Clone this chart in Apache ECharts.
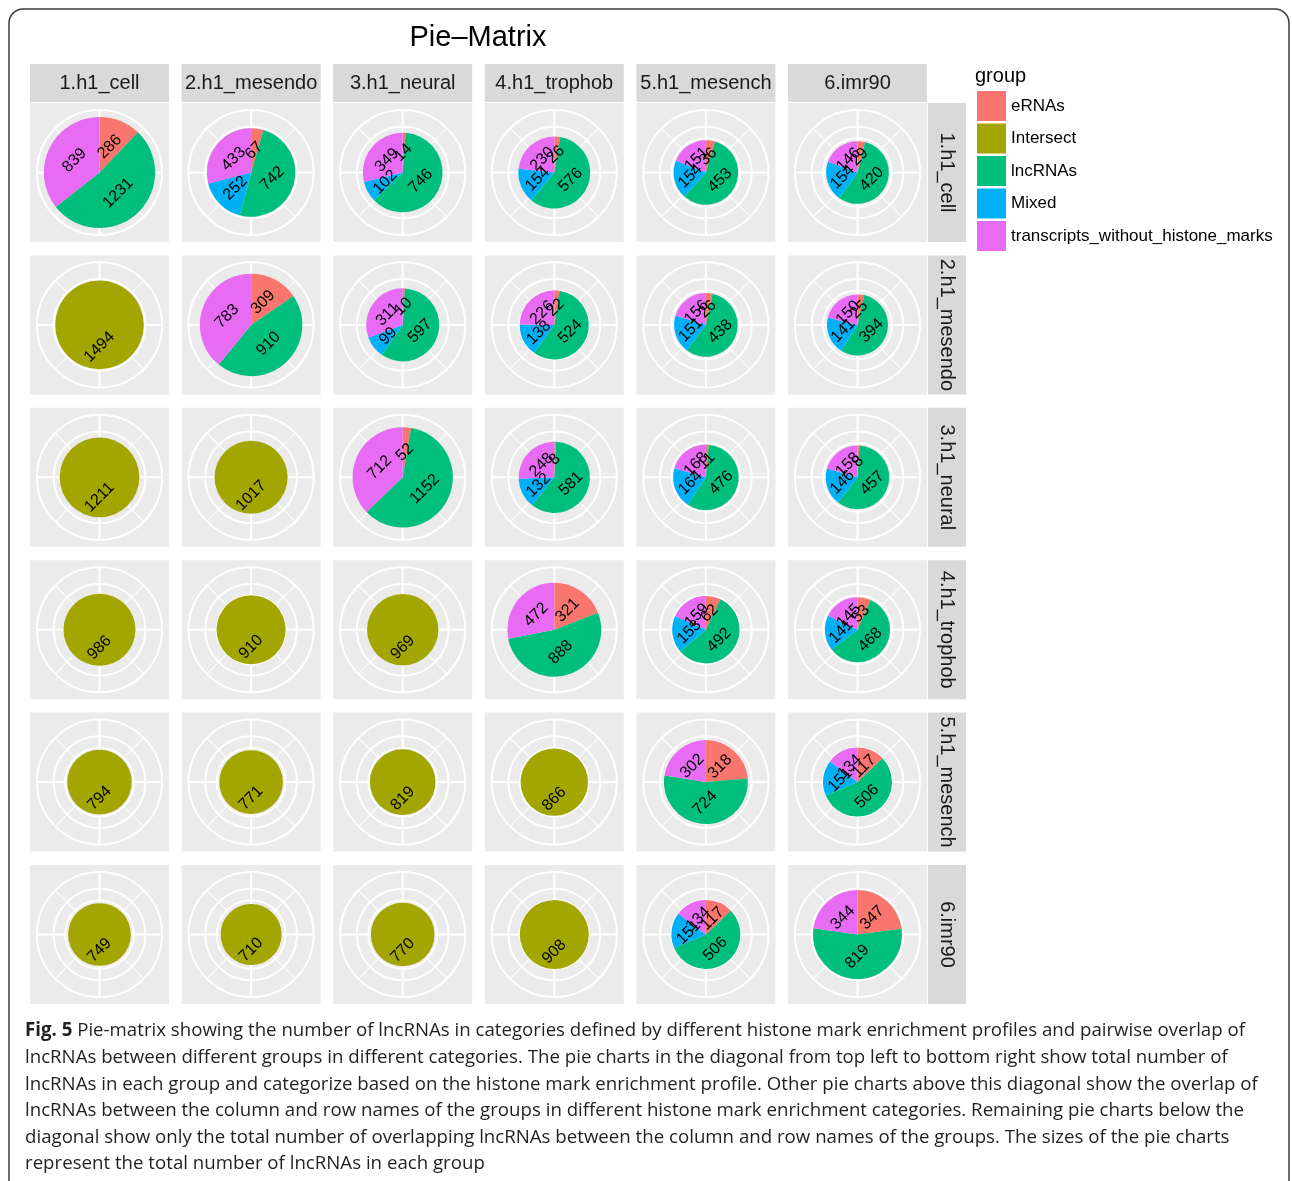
<!DOCTYPE html>
<html>
<head>
<meta charset="utf-8">
<title>Pie–Matrix</title>
<script src="https://cdn.jsdelivr.net/npm/echarts@6/dist/echarts.min.js"></script>
<style>
  html, body { margin: 0; padding: 0; background: #ffffff; }
  #chart { width: 1292px; height: 1181px; }
</style>
</head>
<body>
<div id="chart"></div>
<script>
// ---- data -------------------------------------------------------------
const samples = ['1.h1_cell', '2.h1_mesendo', '3.h1_neural', '4.h1_trophob', '5.h1_mesench', '6.imr90'];
const groups = ['eRNAs', 'Intersect', 'lncRNAs', 'Mixed', 'transcripts_without_histone_marks'];

// Counts per category; rows = row facet, columns = column facet (null = not present)
const eRNAs = [
  [286, 67, 14, 26, 36, 29],
  [null, 309, 10, 22, 26, 25],
  [null, null, 52, 8, 11, 8],
  [null, null, null, 321, 62, 53],
  [null, null, null, null, 318, 117],
  [null, null, null, null, 117, 347]
];
const intersect = [
  [null, null, null, null, null, null],
  [1494, null, null, null, null, null],
  [1211, 1017, null, null, null, null],
  [986, 910, 969, null, null, null],
  [794, 771, 819, 866, null, null],
  [749, 710, 770, 908, null, null]
];
const lncRNAs = [
  [1231, 742, 746, 576, 453, 420],
  [null, 910, 597, 524, 438, 394],
  [null, null, 1152, 581, 476, 457],
  [null, null, null, 888, 492, 468],
  [null, null, null, null, 724, 506],
  [null, null, null, null, 506, 819]
];
const mixed = [
  [null, 252, 102, 154, 154, 154],
  [null, null, 99, 138, 151, 141],
  [null, null, null, 132, 164, 146],
  [null, null, null, null, 153, 141],
  [null, null, null, null, null, 151],
  [null, null, null, null, 151, null]
];
const noMarks = [
  [839, 433, 349, 230, 151, 146],
  [null, 783, 311, 226, 156, 150],
  [null, null, 712, 248, 168, 158],
  [null, null, null, 472, 159, 145],
  [null, null, null, null, 302, 134],
  [null, null, null, null, 134, 344]
];

const captionLines = [
  'Pie-matrix showing the number of lncRNAs in categories defined by different histone mark enrichment profiles and pairwise overlap of',
  'lncRNAs between different groups in different categories. The pie charts in the diagonal from top left to bottom right show total number of',
  'lncRNAs in each group and categorize based on the histone mark enrichment profile. Other pie charts above this diagonal show the overlap of',
  'lncRNAs between the column and row names of the groups in different histone mark enrichment categories. Remaining pie charts below the',
  'diagonal show only the total number of overlapping lncRNAs between the column and row names of the groups. The sizes of the pie charts',
  'represent the total number of lncRNAs in each group'
];

// ---- styling & layout -------------------------------------------------
const groupColors = ['#F8766D', '#A3A500', '#00BF7D', '#00B0F6', '#E76BF3'];
const FONT = '"Liberation Sans", Arial, Helvetica, sans-serif';
const CAP_FONT = '"Open Sans", "Noto Sans", sans-serif';
const P = 139;            // panel side
const X0 = 30, DX = 151.6; // panel columns
const Y0 = 103, DY = 152.4; // panel rows
const STRIP = 38;
const PANEL_BG = '#EBEBEB', STRIP_BG = '#D9D9D9', GRID = '#FFFFFF';

// ---- build cells -------------------------------------------------------
const matrices = [eRNAs, intersect, lncRNAs, mixed, noMarks];
const cells = [];
for (let r = 0; r < samples.length; r++) {
  for (let c = 0; c < samples.length; c++) {
    const slices = [];
    matrices.forEach((m, gi) => {
      const v = m[r][c];
      if (v != null && v > 0) slices.push({ gi, v });
    });
    if (!slices.length) continue;
    const total = slices.reduce((s, d) => s + d.v, 0);
    cells.push({ r, c, slices, total });
  }
}
// pie radius follows sqrt(total); the radius axis spans 0..sqrt(largest total)
const rMax = Math.sqrt(Math.max(...cells.map(d => d.total)));

function renderSlice(params, api) {
  const cs = params.coordSys;
  const rad = api.value(0), a0 = api.value(1), a1 = api.value(2);
  const v = api.value(3), gi = api.value(4), total = api.value(5);
  const fill = groupColors[gi];
  const p0 = api.coord([rad, a0]);
  const p1 = api.coord([rad, a1]);
  const R = Math.hypot(p0[0] - cs.cx, p0[1] - cs.cy);
  let shapeEl;
  if (a1 - a0 >= total) {
    shapeEl = { type: 'circle', shape: { cx: cs.cx, cy: cs.cy, r: R }, style: { fill } };
  } else {
    const t0 = Math.atan2(p0[1] - cs.cy, p0[0] - cs.cx);
    let t1 = Math.atan2(p1[1] - cs.cy, p1[0] - cs.cx);
    while (t1 <= t0) t1 += Math.PI * 2;
    shapeEl = {
      type: 'sector',
      shape: { cx: cs.cx, cy: cs.cy, r: R, r0: 0, startAngle: t0, endAngle: t1, clockwise: true },
      style: { fill }
    };
  }
  const mid = api.coord([rad / 2, (a0 + a1) / 2]);
  return {
    type: 'group',
    children: [
      shapeEl,
      {
        type: 'text', x: mid[0], y: mid[1], rotation: Math.PI / 4, z2: 10,
        style: { text: String(v), fill: '#000', fontSize: 16, fontFamily: FONT, align: 'center', verticalAlign: 'middle' }
      }
    ]
  };
}

const polar = [], angleAxis = [], radiusAxis = [], series = [];
const graphics = [];
const hidden = { axisLine: { show: false }, axisTick: { show: false }, axisLabel: { show: false }, splitLine: { show: false } };
// rings at radius ticks 0,10,20,30,40 are drawn; the ring at the axis maximum is left transparent
const ringColors = [GRID, GRID, GRID, GRID, GRID, 'rgba(255,255,255,0)'];

cells.forEach(cell => {
  const x = X0 + cell.c * DX, y = Y0 + cell.r * DY;
  const cx = x + P / 2, cy = y + P / 2;
  graphics.push({ type: 'rect', z: -1, shape: { x, y, width: P, height: P }, style: { fill: PANEL_BG } });

  // polar grid: spokes every 45 degrees and the outer ring
  const gIdx = polar.length;
  polar.push({ center: [cx, cy], radius: 0.45 * P });
  angleAxis.push({
    polarIndex: gIdx, type: 'value', min: 0, max: 8, interval: 2, startAngle: 90,
    axisLine: { show: true, lineStyle: { color: GRID, width: 2 } },
    axisTick: { show: false }, axisLabel: { show: false },
    splitLine: { show: true, lineStyle: { color: GRID, width: 2 } },
    minorTick: { show: false, splitNumber: 2 },
    minorSplitLine: { show: true, lineStyle: { color: GRID, width: 1.1 } }
  });
  radiusAxis.push(Object.assign({ polarIndex: gIdx, type: 'value', min: 0, max: 1 }, hidden));

  // data polar: radius = sqrt(total), angle = cumulative count
  const dIdx = polar.length;
  polar.push({ center: [cx, cy], radius: 0.4 * P });
  angleAxis.push(Object.assign({ polarIndex: dIdx, type: 'value', min: 0, max: cell.total, startAngle: 90, clockwise: true }, hidden));
  radiusAxis.push({
    polarIndex: dIdx, type: 'value', min: 0, max: rMax, interval: 10,
    axisLine: { show: false }, axisTick: { show: false }, axisLabel: { show: false },
    splitLine: { show: true, showMinLine: false, showMaxLine: false, lineStyle: { color: ringColors, width: 2 } }
  });

  const rad = Math.sqrt(cell.total);
  let acc = 0;
  const data = cell.slices.map(s => {
    const item = [rad, acc, acc + s.v, s.v, s.gi, cell.total];
    acc += s.v;
    return item;
  });
  series.push({
    type: 'custom', coordinateSystem: 'polar', polarIndex: dIdx,
    encode: { radius: 0, angle: 1 },
    renderItem: renderSlice, data, silent: true, animation: false
  });
});

// legend entries
groups.forEach((g, i) => {
  series.push({
    type: 'custom', name: g, coordinateSystem: 'polar', polarIndex: 1,
    data: [], renderItem: () => null, itemStyle: { color: groupColors[i] }
  });
});

// facet strips
samples.forEach((s, i) => {
  const x = X0 + i * DX;
  graphics.push({ type: 'rect', z: -1, shape: { x, y: Y0 - STRIP - 1, width: P, height: STRIP }, style: { fill: STRIP_BG } });
  graphics.push({ type: 'text', x: x + P / 2, y: Y0 - STRIP / 2 - 1, style: { text: s, fill: '#1A1A1A', fontSize: 20, fontFamily: FONT, align: 'center', verticalAlign: 'middle' } });
  const y = Y0 + i * DY;
  const sx = X0 + 5 * DX + P + 1;
  graphics.push({ type: 'rect', z: -1, shape: { x: sx, y, width: STRIP, height: P }, style: { fill: STRIP_BG } });
  graphics.push({ type: 'text', x: sx + STRIP / 2, y: y + P / 2, rotation: -Math.PI / 2, style: { text: s, fill: '#1A1A1A', fontSize: 20, fontFamily: FONT, align: 'center', verticalAlign: 'middle' } });
});

// title, legend heading, frame
graphics.push({ type: 'text', x: 478, y: 38, style: { text: 'Pie–Matrix', fill: '#000', fontSize: 29, fontFamily: FONT, align: 'center', verticalAlign: 'middle' } });
graphics.push({ type: 'text', x: 975, y: 76, style: { text: 'group', fill: '#000', fontSize: 20, fontFamily: FONT, align: 'left', verticalAlign: 'middle' } });
graphics.push({ type: 'rect', z: -2, shape: { x: 9, y: 9, width: 1280, height: 1230, r: 14 }, style: { fill: '#fff', stroke: '#3c3c3c', lineWidth: 1.5 } });

// caption, condensed horizontally to the column width
const CAP = 19;
const ctx = document.createElement('canvas').getContext('2d');
ctx.font = 'bold ' + CAP + 'px ' + CAP_FONT;
const wBold = ctx.measureText('Fig. 5').width;
ctx.font = CAP + 'px ' + CAP_FONT;
const wRest = ctx.measureText(' ' + captionLines[0]).width;
const capScale = 1220 / (wBold + wRest);
captionLines.forEach((line, i) => {
  graphics.push({
    type: 'text', x: 25, y: 1031 + i * 26.6, scaleX: capScale,
    style: {
      text: i === 0 ? '{b|Fig. 5} ' + line : line,
      fill: '#231F20', fontSize: CAP, fontFamily: CAP_FONT, align: 'left', verticalAlign: 'middle',
      rich: { b: { fontWeight: 'bold', fontSize: CAP, fontFamily: CAP_FONT, fill: '#231F20' } }
    }
  });
});

const chart = echarts.init(document.getElementById('chart'), null, { renderer: 'canvas', width: 1292, height: 1181 });
chart.setOption({
  animation: false,
  backgroundColor: '#ffffff',
  polar, angleAxis, radiusAxis, series,
  legend: {
    data: groups, orient: 'vertical', left: 977, top: 91, padding: 0,
    icon: 'rect', itemWidth: 29, itemHeight: 30, itemGap: 2.5, selectedMode: false,
    textStyle: { fontSize: 17, fontFamily: FONT, color: '#000' }
  },
  graphic: { elements: graphics }
});
</script>
</body>
</html>
